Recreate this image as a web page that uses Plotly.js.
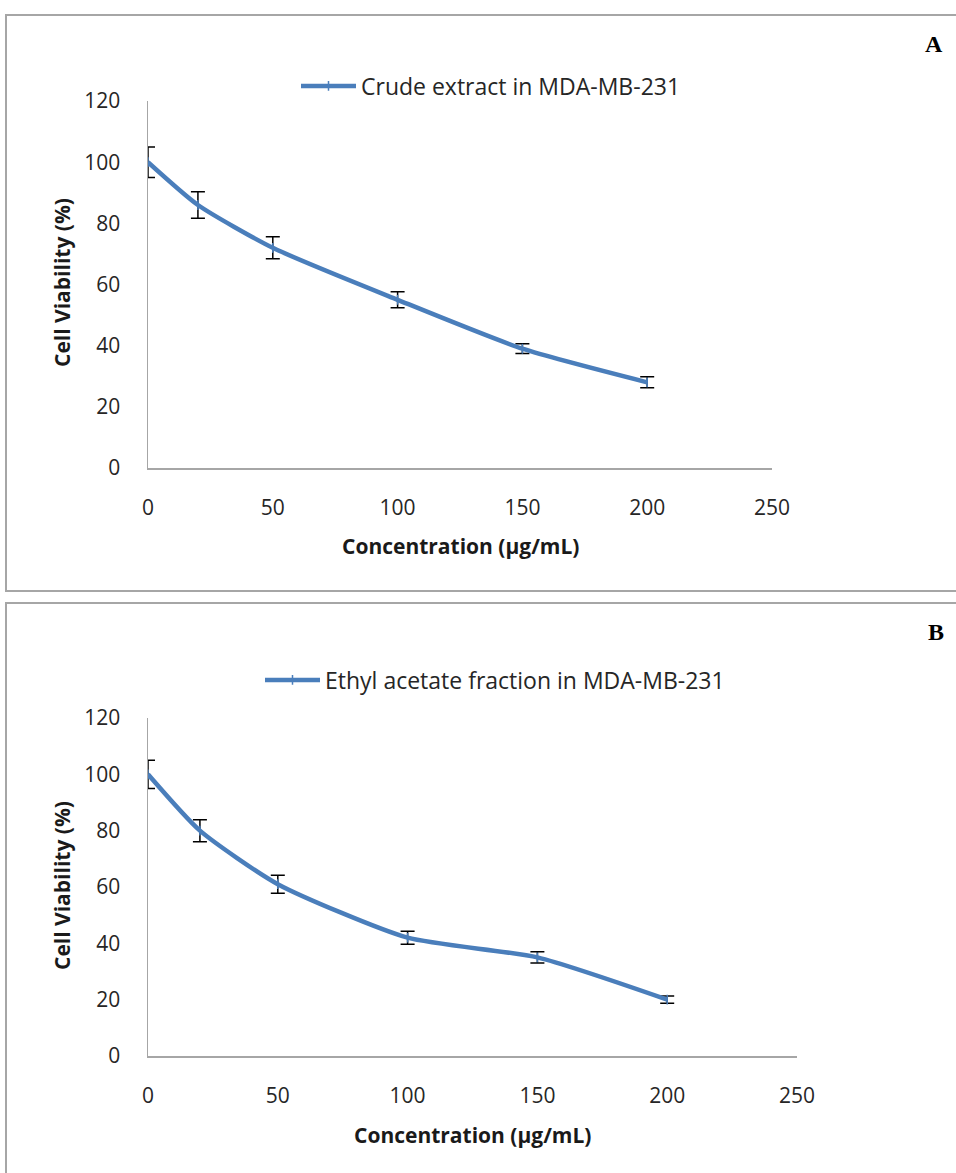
<!DOCTYPE html>
<html>
<head>
<meta charset="utf-8">
<script src="https://cdn.plot.ly/plotly-3.0.1.min.js"></script>
<style>html,body{margin:0;padding:0;background:#fff;}#chart{width:956px;height:1173px;}</style>
</head>
<body>
<div id="chart"></div>
<script>
// Data
var concentration = [0, 20, 50, 100, 150, 200];
var crudeViability = [100, 86, 72, 55, 39, 28];
var crudeError = [5, 4.3, 3.6, 2.6, 1.6, 1.8];
var ethylViability = [100, 80, 61, 42, 35, 20];
var ethylError = [5, 3.9, 3.2, 2.3, 2, 1.3];
var xTicks = [0, 50, 100, 150, 200, 250];
var yTicks = [0, 20, 40, 60, 80, 100, 120];
var seriesNames = ["Crude extract in MDA-MB-231", "Ethyl acetate fraction in MDA-MB-231"];
var panelLabels = ["A", "B"];
var xTitle = "Concentration (µg/mL)";
var yTitle = "Cell Viability (%)";

var W = 956, H = 1173;
function py(p) { return 1 - p / H; }
function px(p) { return p / W; }

var blue = "#4a7ebb";
var tickFont = {family: "Open Sans", size: 21, color: "#262626"};
var titleFont = {family: "Open Sans", size: 21, color: "#1a1a1a", weight: 700};
var legendFont = {family: "Open Sans", size: 23, color: "#262626"};

function makeTrace(y, err, name, xa, ya, legend) {
  return {
    x: concentration, y: y, name: name, xaxis: xa, yaxis: ya, legend: legend,
    type: "scatter", mode: "lines+markers",
    line: {color: blue, width: 4.5, shape: "spline", smoothing: 0.6},
    marker: {symbol: "line-ns-open", size: 7, color: blue, line: {color: blue, width: 1.5}},
    error_y: {type: "data", array: err, visible: true, color: "#000", thickness: 1.5, width: 7},
    cliponaxis: true
  };
}

var traces = [
  makeTrace(crudeViability, crudeError, seriesNames[0], "x", "y", "legend"),
  makeTrace(ethylViability, ethylError, seriesNames[1], "x2", "y2", "legend2")
];

function xaxis(domain, anchor) {
  return {
    domain: domain, anchor: anchor, range: [0, 250], tickvals: xTicks,
    showgrid: false, zeroline: false, showline: true, linecolor: "#a6a6a6", linewidth: 1.5,
    ticks: "", tickfont: tickFont, ticklabelstandoff: 20, fixedrange: true
  };
}
function yaxis(domain, anchor) {
  return {
    domain: domain, anchor: anchor, range: [0, 120], tickvals: yTicks,
    showgrid: false, zeroline: false, showline: true, linecolor: "#a6a6a6", linewidth: 1.5,
    ticks: "", tickfont: tickFont, ticklabelstandoff: 22, fixedrange: true
  };
}

function ann(text, x, y, font, angle) {
  return {text: text, xref: "paper", yref: "paper", x: px(x), y: py(y), showarrow: false,
    xanchor: "center", yanchor: "middle", textangle: angle || 0, font: font};
}

var labelFont = {family: "Liberation Serif", size: 24, color: "#000", weight: 700};

var layout = {
  width: W, height: H,
  margin: {l: 0, r: 0, t: 0, b: 0},
  paper_bgcolor: "#fff", plot_bgcolor: "#fff",
  showlegend: true,
  xaxis: xaxis([px(148), px(772)], "y"),
  yaxis: yaxis([py(468), py(101)], "x"),
  xaxis2: xaxis([px(148), px(797)], "y2"),
  yaxis2: yaxis([py(1056), py(718)], "x2"),
  legend: {x: px(296), y: py(86), xanchor: "left", yanchor: "middle", orientation: "h",
    font: legendFont, itemwidth: 55, bgcolor: "rgba(0,0,0,0)"},
  legend2: {x: px(260), y: py(680), xanchor: "left", yanchor: "middle", orientation: "h",
    font: legendFont, itemwidth: 55, bgcolor: "rgba(0,0,0,0)"},
  shapes: [
    {type: "rect", xref: "paper", yref: "paper", x0: px(6), x1: px(962), y0: py(591), y1: py(15),
      line: {color: "#a6a6a6", width: 2}},
    {type: "rect", xref: "paper", yref: "paper", x0: px(6), x1: px(962), y0: py(1180), y1: py(603),
      line: {color: "#a6a6a6", width: 2}}
  ],
  annotations: [
    ann(panelLabels[0], 934, 44, labelFont),
    ann(panelLabels[1], 936, 632, labelFont),
    ann(yTitle, 62, 283, titleFont, -90),
    ann(xTitle, 460, 546, titleFont),
    ann(yTitle, 62, 886, titleFont, -90),
    ann(xTitle, 472, 1135, titleFont)
  ]
};

Plotly.newPlot("chart", traces, layout, {staticPlot: true, displayModeBar: false});
</script>
</body>
</html>
